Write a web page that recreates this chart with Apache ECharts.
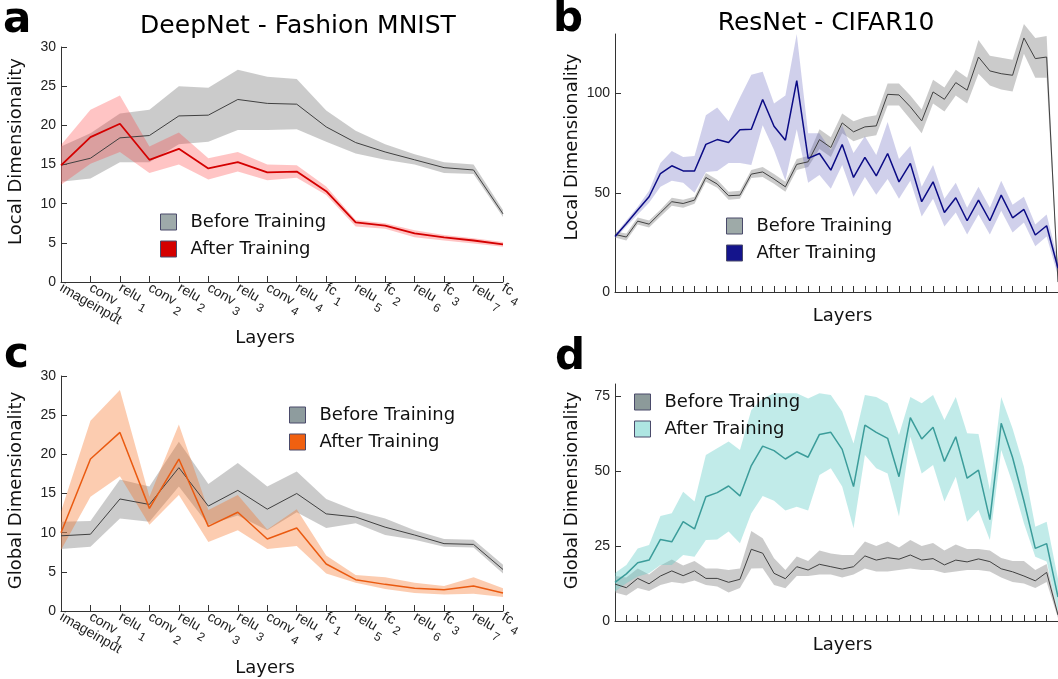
<!DOCTYPE html>
<html>
<head>
<meta charset="utf-8">
<script src="https://cdn.jsdelivr.net/npm/echarts@6/dist/echarts.min.js"></script>
<style>
  html, body { margin: 0; padding: 0; background: #fff; }
  #main { width: 1058px; height: 679px; }
</style>
</head>
<body>
<div id="main"></div>
<script>
// layer names of DeepNet (panels a, c); "name sub" -> subscripted label
var deepLayers = ['imageinput', 'conv 1', 'relu 1', 'conv 2', 'relu 2', 'conv 3', 'relu 3', 'conv 4',
  'relu 4', 'fc 1', 'relu 5', 'fc 2', 'relu 6', 'fc 3', 'relu 7', 'fc 4'];
// ResNet layers are unlabeled (panels b, d)
var resLayers = Array.from({ length: 40 }, function (_, i) { return 'L' + (i + 1); });

// a: local dimensionality, DeepNet
var aBefore   = [14.9, 15.8, 18.4, 18.7, 21.2, 21.3, 23.3, 22.8, 22.7, 19.8, 17.8, 16.6, 15.6, 14.6, 14.3, 8.7];
var aBeforeLo = [12.8, 13.2, 15.3, 15.3, 17.6, 17.9, 19.4, 19.4, 19.5, 17.9, 16.4, 15.6, 15.0, 13.9, 13.8, 8.3];
var aBeforeHi = [17.3, 19.0, 21.5, 22.0, 25.0, 24.8, 27.1, 26.2, 25.9, 21.9, 19.3, 17.6, 16.3, 15.3, 15.0, 9.2];
var aAfter    = [14.9, 18.5, 20.2, 15.6, 17.0, 14.5, 15.3, 14.0, 14.1, 11.6, 7.6, 7.2, 6.2, 5.7, 5.3, 4.8];
var aAfterLo  = [12.4, 15.1, 16.6, 13.9, 15.0, 13.1, 14.1, 13.0, 13.3, 11.1, 7.1, 6.8, 5.7, 5.3, 4.9, 4.5];
var aAfterHi  = [17.5, 22.0, 23.8, 17.3, 19.1, 15.8, 16.6, 15.0, 14.9, 12.2, 7.9, 7.5, 6.6, 6.0, 5.6, 5.1];

// c: global dimensionality, DeepNet
var cBefore   = [9.6, 9.8, 14.3, 13.6, 18.3, 13.4, 15.4, 13.0, 15.0, 12.4, 12.0, 10.7, 9.7, 8.6, 8.5, 5.3];
var cBeforeLo = [7.9, 8.2, 11.8, 11.4, 15.9, 11.0, 12.2, 10.3, 12.6, 10.6, 11.2, 9.7, 9.1, 8.2, 8.1, 4.8];
var cBeforeHi = [11.4, 11.5, 16.8, 15.9, 21.6, 16.2, 18.9, 15.9, 17.8, 14.3, 12.8, 11.8, 10.3, 9.2, 9.1, 5.9];
var cAfter    = [10.0, 19.4, 22.8, 13.1, 19.4, 10.8, 12.6, 9.2, 10.6, 6.0, 4.0, 3.4, 2.9, 2.7, 3.2, 2.3];
var cAfterLo  = [7.8, 14.6, 17.2, 11.0, 14.8, 8.8, 10.3, 7.9, 8.3, 4.8, 3.6, 2.8, 2.3, 2.1, 2.2, 1.8];
var cAfterHi  = [12.7, 24.3, 28.2, 14.6, 23.8, 12.9, 14.8, 10.4, 13.0, 7.1, 4.6, 4.3, 3.6, 3.2, 4.3, 2.9];

// b: local dimensionality, ResNet
var bBefore   = [29, 27.7, 35.7, 34.2, 39.9, 45.5, 44.6, 46.3, 57.7, 54.4, 48.5, 48.8, 59.4, 60.5, 56.9, 53, 64.3, 65.6, 76.8, 72.8,
                 85.2, 80.7, 83.2, 83.7, 99.6, 99.3, 93.3, 86.2, 100.8, 97.1, 105.5, 101.7, 118.4, 111.4, 110, 109.2, 128, 117.6, 118.4, 5];
var bBeforeLo = [27.5, 26, 34, 32.5, 38, 43.5, 42.5, 44.5, 55.5, 52.5, 46.5, 47, 57.5, 58, 54.5, 50.5, 61.5, 63, 72, 68,
                 80, 76, 78, 79, 94, 94, 87, 80, 95, 91, 99, 95, 110, 104, 102, 101, 120, 108, 108, 4];
var bBeforeHi = [30.5, 29.5, 37.5, 36, 41.5, 47.5, 46.5, 48, 60, 56.5, 50.5, 51, 61.5, 63, 59.5, 55.5, 67, 68.5, 82, 78,
                 90, 86, 88, 89, 105, 105, 99, 92, 107, 103, 112, 108, 127, 119, 118, 117, 135, 128, 129, 6];
var bAfter    = [28, 34.5, 41.3, 48, 59.7, 63.6, 61, 61, 74.4, 76.8, 75.3, 81.7, 82, 97, 83.5, 76.5, 106.5, 67.3, 69.8, 61.4,
                 74.3, 57.7, 67.8, 58.5, 69.8, 55.5, 64.8, 45.5, 55.5, 40.1, 47.5, 35.9, 46.3, 35.9, 48.8, 37.4, 41.6, 28.7, 33.4, 12];
var bAfterLo  = [27, 33, 39, 45, 53, 56, 55, 50, 60.5, 61, 65, 65, 64, 84, 71.5, 56, 82, 55, 59, 52,
                 64, 48, 58, 49, 57, 47, 56, 38, 47, 33, 40, 29, 39, 29, 41, 30, 35, 23, 28, 8];
var bAfterHi  = [29, 36, 43, 51, 65, 71, 68, 68.5, 89, 93, 86, 98, 109.5, 111, 95, 99, 130, 80, 80, 71.5,
                 84, 70, 78.5, 69, 85.7, 67, 73.6, 53, 64, 47, 55, 42.5, 53, 42.5, 56, 44, 48, 34, 39, 16];

// d: global dimensionality, ResNet
var dBefore   = [12.3, 11.1, 14.2, 12.4, 15, 16.7, 15.1, 16.7, 14.2, 14.2, 12.9, 13.9, 23.9, 22.6, 15.9, 14.1, 18.1, 17, 18.9, 18.1,
                 17.3, 18.1, 21.7, 20.3, 21.1, 20.6, 22, 20.3, 20.8, 18.7, 20.3, 19.7, 20.7, 19.8, 17.4, 16.4, 15, 13.4, 16.2, 2];
var dBeforeLo = [9.5, 8.5, 11, 10, 12, 13, 12.5, 13.5, 12, 11.5, 9.5, 11, 17.5, 17.6, 12, 10.9, 15, 15, 15.5, 15.5,
                 14.5, 15.5, 17.5, 16.5, 16.5, 17, 17.5, 17, 17, 16, 16.5, 17, 17, 16.5, 14.5, 13, 12.5, 11, 13, 1];
var dBeforeHi = [15, 14.5, 17.5, 15.5, 18.5, 20.5, 18.5, 20, 17.5, 17.5, 17, 17.5, 30, 27.6, 20.9, 17, 21.5, 20, 23.5, 22.5,
                 22, 22, 26.5, 25, 26.5, 24.5, 27, 25, 26, 23.5, 25.5, 24, 24, 23.5, 21, 20, 20, 17, 19, 3];
var dAfter    = [12.9, 15.7, 19.4, 20.3, 27.2, 26.4, 33.1, 30.7, 41.4, 42.8, 45, 41.7, 51.8, 58.3, 56.8, 54, 56.4, 54.6, 62.2, 62.9,
                 57.2, 44.8, 65.3, 62.9, 60.9, 48.1, 67.8, 60.7, 64.6, 53.2, 61.4, 47.6, 50.3, 33.8, 65.9, 54.5, 40, 24.2, 25.8, 8];
var dAfterLo  = [9.8, 12.6, 14.8, 15.9, 18.7, 18.7, 22, 21.4, 27, 27.2, 29.8, 25.9, 35.9, 41.7, 40.1, 36.8, 38.1, 36.8, 48.7, 50.9,
                 44.8, 30.9, 55.3, 50.9, 49.2, 34.8, 61.4, 49.2, 52, 39.8, 48.1, 33.1, 37, 27, 57, 45.9, 32.6, 21.4, 19.8, 3];
var dAfterHi  = [16, 18.7, 24.2, 25.3, 35, 35.9, 43.1, 39.8, 55.3, 57.6, 59.8, 57, 70.3, 74.2, 75.9, 75.9, 75.9, 74.2, 75.9, 75.3,
                 69.8, 59.2, 75.3, 74.7, 72.6, 62, 74.7, 72.6, 75.3, 67, 74.7, 62.6, 62.3, 43.7, 74.7, 64.2, 51.4, 31.4, 33.1, 14];

var yTicksA = [0, 5, 10, 15, 20, 25, 30];
var yTicksB = [0, 50, 100];
var yTicksD = [0, 25, 50, 75];

var myChart = echarts.init(document.getElementById('main'));
var SANS = '"DejaVu Sans", sans-serif';
var HELV = '"Liberation Sans", Arial, sans-serif';
var AXIS = '#333';

// shaded band = invisible lower line + stacked (hi - lo) area
function band(idx, key, lo, hi, color, clip) {
  var diff = hi.map(function (v, i) { return +(v - lo[i]).toFixed(2); });
  var common = {
    type: 'line', xAxisIndex: idx, yAxisIndex: idx, stack: key, symbol: 'none',
    silent: true, clip: clip, lineStyle: { opacity: 0 }, z: 1
  };
  return [
    Object.assign({}, common, { name: key + '-lo', data: lo }),
    Object.assign({}, common, { name: key + '-hi', data: diff, areaStyle: { color: color, opacity: 1 } })
  ];
}
function line(idx, name, data, color, width) {
  return {
    type: 'line', name: name, xAxisIndex: idx, yAxisIndex: idx, data: data, symbol: 'none',
    clip: false, lineStyle: { color: color, width: width }, itemStyle: { color: color }, z: 3
  };
}

function deepX(idx, nameGap) {
  return {
    type: 'category', gridIndex: idx, data: deepLayers, boundaryGap: false,
    axisLine: { lineStyle: { color: AXIS } },
    axisTick: { inside: true, length: 6, interval: 0, lineStyle: { color: AXIS } },
    axisLabel: {
      interval: 0, rotate: -30, margin: 5, color: '#222', fontFamily: HELV, fontSize: 14,
      formatter: function (v) {
        var p = v.split(' ');
        return p.length > 1 ? '{n|' + p[0] + '}{s|' + p[1] + '}' : '{n|' + v + '}';
      },
      rich: {
        n: { fontFamily: HELV, fontSize: 14, color: '#222' },
        s: { fontFamily: HELV, fontSize: 12, color: '#222', padding: [15, 0, 0, 3] }
      }
    },
    name: 'Layers', nameLocation: 'middle', nameGap: nameGap,
    nameTextStyle: { fontFamily: SANS, fontSize: 18, color: '#111', padding: [0, 34, 0, 0] }
  };
}
function resX(idx) {
  return {
    type: 'category', gridIndex: idx, data: resLayers, boundaryGap: false,
    axisLine: { lineStyle: { color: AXIS } },
    axisTick: { inside: true, length: 6, interval: 0, lineStyle: { color: AXIS } },
    axisLabel: { show: false },
    name: 'Layers', nameLocation: 'middle', nameGap: 15,
    nameTextStyle: { fontFamily: SANS, fontSize: 18, color: '#111', padding: [0, 0, 0, 12] }
  };
}
function yAx(idx, max, ticks, name, nameGap, shift) {
  return {
    type: 'value', gridIndex: idx, min: 0, max: max,
    splitLine: { show: false },
    axisLine: { show: true, lineStyle: { color: AXIS } },
    axisTick: { show: true, inside: true, length: 6, customValues: ticks, lineStyle: { color: AXIS } },
    axisLabel: { customValues: ticks, margin: 5, color: '#222', fontFamily: HELV, fontSize: 14 },
    name: name, nameLocation: 'middle', nameGap: nameGap, nameRotate: 90,
    nameTextStyle: { fontFamily: SANS, fontSize: 18, color: '#111', padding: [0, 0, 0, shift] }
  };
}
function legend(left, top, beforeCol, afterCol) {
  return {
    left: left, top: top, orient: 'vertical', icon: 'rect', selectedMode: false,
    itemWidth: 16, itemHeight: 16, itemGap: 9, padding: 0,
    textStyle: { fontFamily: SANS, fontSize: 18, color: '#111', padding: [0, 0, 0, 9] },
    data: [
      { name: 'Before Training', itemStyle: { color: beforeCol, borderColor: '#4a4a6a', borderWidth: 1 }, lineStyle: { opacity: 0 } },
      { name: 'After Training', itemStyle: { color: afterCol, borderColor: '#4a4a6a', borderWidth: 1 }, lineStyle: { opacity: 0 } }
    ]
  };
}
function label(text, x, y, size, bold) {
  return {
    type: 'text', x: x, y: y, silent: true,
    style: {
      text: text, fill: '#000', fontFamily: SANS, fontSize: size,
      fontWeight: bold ? 'bold' : 'normal', textAlign: bold ? 'left' : 'center', textVerticalAlign: 'middle'
    }
  };
}

var GRAY_BAND = 'rgba(140,140,140,0.45)';
var GRAY_LINE = '#404040';

var option = {
  animation: false,
  backgroundColor: '#fff',
  grid: [
    { left: 61, top: 47, width: 442, height: 235 },
    { left: 615, top: 34, right: 0, height: 258 },
    { left: 61, top: 376, width: 442, height: 235 },
    { left: 615, top: 384, right: 0, height: 237 }
  ],
  xAxis: [deepX(0, 45), resX(1), deepX(2, 48), resX(3)],
  yAxis: [
    yAx(0, 30, yTicksA, 'Local Dimensionality', 36, 26),
    yAx(1, 130, yTicksB, 'Local Dimensionality', 34, 32),
    yAx(2, 30, yTicksA, 'Global Dimensionality', 36, 6),
    yAx(3, 79, yTicksD, 'Global Dimensionality', 34, 24)
  ],
  legend: [
    legend(160, 213, '#9eaaaa', '#d40000'),
    legend(726, 217, '#9eaaa8', '#14148c'),
    legend(289, 406, '#8e9c9e', '#f06010'),
    legend(634, 393, '#8c9a9a', '#aee6e2')
  ],
  graphic: [
    label('a', 3, 21, 42, true),
    label('DeepNet - Fashion MNIST', 298, 26, 25, false),
    label('b', 553, 20, 42, true),
    label('ResNet - CIFAR10', 826, 23, 25, false),
    label('c', 4, 356, 42, true),
    label('d', 555, 358, 42, true)
  ],
  series: [].concat(
    band(0, 'aB', aBeforeLo, aBeforeHi, GRAY_BAND, true),
    band(0, 'aA', aAfterLo, aAfterHi, 'rgba(255,60,60,0.3)', true),
    [line(0, 'Before Training', aBefore, GRAY_LINE, 1), line(0, 'After Training', aAfter, '#d40000', 1.8)],
    band(1, 'bB', bBeforeLo, bBeforeHi, GRAY_BAND, false),
    band(1, 'bA', bAfterLo, bAfterHi, 'rgba(100,100,190,0.3)', false),
    [line(1, 'Before Training', bBefore, GRAY_LINE, 1), line(1, 'After Training', bAfter, '#0b0b85', 1.5)],
    band(2, 'cB', cBeforeLo, cBeforeHi, GRAY_BAND, true),
    band(2, 'cA', cAfterLo, cAfterHi, 'rgba(245,110,30,0.35)', true),
    [line(2, 'Before Training', cBefore, GRAY_LINE, 1), line(2, 'After Training', cAfter, '#ea5a10', 1.5)],
    band(3, 'dB', dBeforeLo, dBeforeHi, GRAY_BAND, true),
    band(3, 'dA', dAfterLo, dAfterHi, 'rgba(100,205,200,0.4)', true),
    [line(3, 'Before Training', dBefore, GRAY_LINE, 1), line(3, 'After Training', dAfter, '#3b9c9a', 1.5)]
  )
};
myChart.setOption(option);
window.onresize = function () { myChart.resize(); };
</script>
</body>
</html>
